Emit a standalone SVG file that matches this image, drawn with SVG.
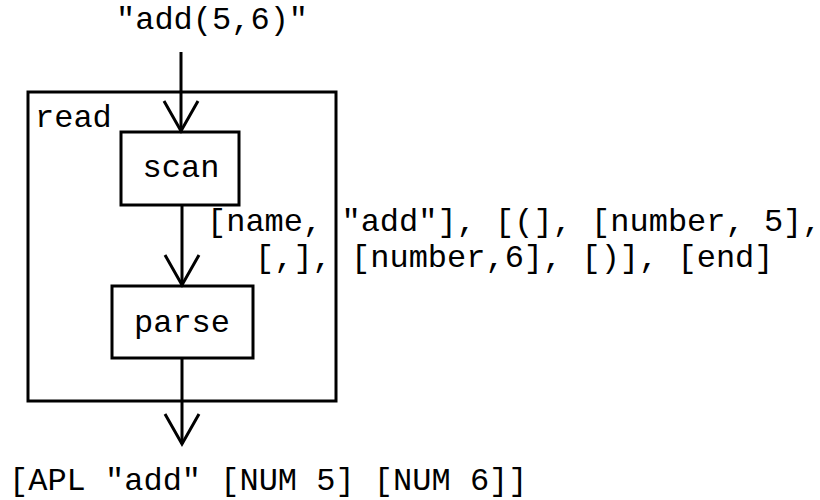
<svg xmlns="http://www.w3.org/2000/svg" width="820" height="500" viewBox="0 0 820 500">
  <style>
    .box { fill: none; stroke: #000; stroke-width: 3; }
    .flow { stroke: #000; stroke-width: 3; fill: none; marker-end: url(#vhead); }
    text { font-family: "Liberation Mono", "Courier New", monospace; font-size: 32px; fill: #000; }
    .mid { text-anchor: middle; }
  </style>
  <defs>
    <marker id="vhead" markerUnits="userSpaceOnUse" markerWidth="40" markerHeight="40" refX="0" refY="0" orient="auto" overflow="visible">
      <path d="M-30,-17 L0,0 L-30,17" fill="none" stroke="#000" stroke-width="3" stroke-linejoin="miter"/>
    </marker>
  </defs>
  <rect width="820" height="500" fill="#fff"/>

  <!-- input string -->
  <text id="input" x="116" y="29">"add(5,6)"</text>

  <!-- read stage container -->
  <g id="read">
    <rect class="box" x="28" y="92" width="308" height="309"/>
    <text x="35" y="127">read</text>
  </g>

  <g id="scan">
    <rect class="box" x="121" y="132" width="118" height="73"/>
    <text class="mid" x="181" y="177">scan</text>
  </g>

  <g id="parse">
    <rect class="box" x="112" y="286" width="141" height="72"/>
    <text class="mid" x="182" y="332">parse</text>
  </g>

  <!-- arrows between stages -->
  <g id="connectors">
    <line class="flow" x1="181" y1="52" x2="181" y2="131"/>
    <line class="flow" x1="182" y1="205" x2="182" y2="285"/>
    <line class="flow" x1="182" y1="358" x2="182" y2="444"/>
  </g>

  <!-- token list produced by scan -->
  <g id="tokens">
    <text x="207" y="231">[name, "add"], [(], [number, 5],</text>
    <text x="255" y="267">[,], [number,6], [)], [end]</text>
  </g>

  <!-- resulting tree -->
  <text id="output" x="9" y="490">[APL "add" [NUM 5] [NUM 6]]</text>
</svg>
